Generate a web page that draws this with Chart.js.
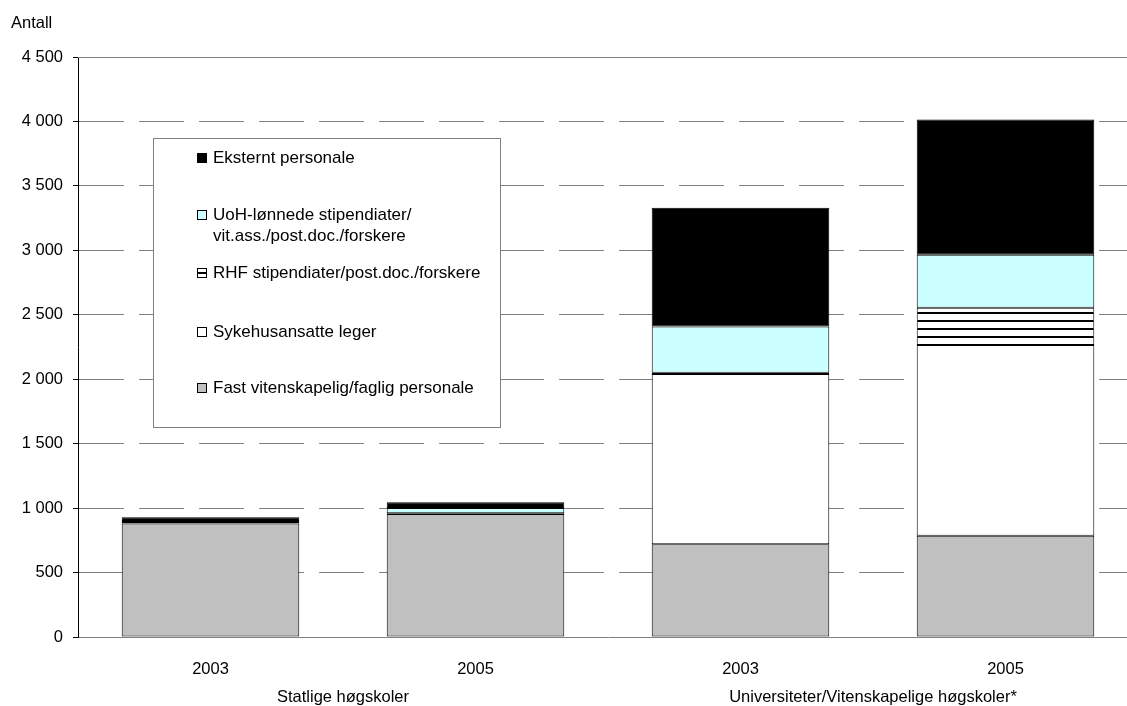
<!DOCTYPE html>
<html lang="no">
<head>
  <meta charset="UTF-8">
  <title>Antall personale</title>
  <style>
    html, body { margin: 0; padding: 0; background: #fff; overflow: hidden; }
    #chart { display: block; }
  </style>
</head>
<body>
  <canvas id="chart" width="1140" height="706"></canvas>

  <script src="https://cdn.jsdelivr.net/npm/chart.js"></script>
  <script>
    // data
    const years = ['2003', '2005', '2003', '2005'];
    const groups = ['Statlige høgskoler', 'Universiteter/Vitenskapelige høgskoler*'];
    const fastVit = [880, 955, 720, 785];
    const sykehus = [0, 0, 1320, 1480];
    const rhf = [5, 5, 10, 290];
    const uoh = [15, 40, 360, 410];
    const eksternt = [30, 45, 920, 1050];
    const yTicks = [0, 500, 1000, 1500, 2000, 2500, 3000, 3500, 4000, 4500];

    const FONT = '"Liberation Sans", Arial, sans-serif';
    const SIZE = 16.5;

    // striped fill for the RHF series
    function stripes() {
      const c = document.createElement('canvas');
      c.width = 8; c.height = 8;
      const g = c.getContext('2d');
      g.fillStyle = '#fff';
      g.fillRect(0, 0, 8, 8);
      g.fillStyle = '#000';
      g.fillRect(0, 0, 8, 2);
      return g.createPattern(c, 'repeat');
    }
    const rhfFill = stripes();

    const fmt = v => String(v).replace(/\B(?=(\d{3})+(?!\d))/g, ' ');

    const series = [
      { label: 'Fast vitenskapelig/faglig personale', data: fastVit, backgroundColor: '#C0C0C0' },
      { label: 'Sykehusansatte leger', data: sykehus, backgroundColor: '#FFFFFF' },
      { label: 'RHF stipendiater/post.doc./forskere', data: rhf, backgroundColor: rhfFill },
      { label: 'UoH-lønnede stipendiater/\nvit.ass./post.doc./forskere', data: uoh, backgroundColor: '#CCFFFF' },
      { label: 'Eksternt personale', data: eksternt, backgroundColor: '#000000' }
    ];

    // extra drawing: axis title, group labels, legend box, top line
    const extras = {
      id: 'extras',
      afterDatasetsDraw(chart) {
        const ctx = chart.ctx;
        const area = chart.chartArea;
        const x = chart.scales.x;
        ctx.save();

        // solid top line
        ctx.strokeStyle = '#808080';
        ctx.lineWidth = 1;
        ctx.beginPath();
        ctx.moveTo(area.left, Math.round(area.top) + 0.5);
        ctx.lineTo(area.right, Math.round(area.top) + 0.5);
        ctx.stroke();

        // legend box
        const bx = 153, by = 138, bw = 347, bh = 289;
        ctx.fillStyle = '#fff';
        ctx.fillRect(bx, by, bw, bh);
        ctx.strokeStyle = '#808080';
        ctx.strokeRect(bx + 0.5, by + 0.5, bw, bh);

        const rows = [158, 215, 273, 332, 388];
        const order = [4, 3, 2, 1, 0];
        ctx.font = '17px ' + FONT;
        ctx.textBaseline = 'middle';
        ctx.textAlign = 'left';
        order.forEach((di, i) => {
          const ds = chart.data.datasets[di];
          const y = rows[i];
          ctx.fillStyle = ds.backgroundColor;
          ctx.fillRect(197, y - 5, 10, 10);
          ctx.strokeStyle = '#000';
          ctx.strokeRect(197.5, y - 4.5, 9, 9);
          ctx.fillStyle = '#000';
          ds.label.split('\n').forEach((line, k) => {
            ctx.fillText(line, 213, y + k * 21);
          });
        });

        // axis title
        ctx.font = SIZE + 'px ' + FONT;
        ctx.fillText('Antall', 11, 23);

        // group labels under the years
        ctx.textAlign = 'center';
        groups.forEach((g, i) => {
          const cx = (x.getPixelForValue(i * 2) + x.getPixelForValue(i * 2 + 1)) / 2;
          ctx.fillText(g, cx, 697);
        });
        ctx.restore();
      }
    };

    new Chart(document.getElementById('chart'), {
      type: 'bar',
      data: {
        labels: years,
        datasets: series.map(s => Object.assign({
          borderColor: '#000',
          borderWidth: 1,
          borderSkipped: false,
          barPercentage: 0.67,
          categoryPercentage: 1
        }, s))
      },
      options: {
        responsive: false,
        animation: false,
        devicePixelRatio: 1,
        layout: { padding: { top: 57, right: 2, left: 0, bottom: 0 } },
        plugins: { legend: { display: false }, tooltip: { enabled: false } },
        scales: {
          x: {
            stacked: true,
            grid: { display: false },
            border: { display: true, color: '#808080', width: 1 },
            ticks: { color: '#000', font: { family: FONT, size: SIZE }, padding: 15 },
            afterFit: s => { s.height = 69; }
          },
          y: {
            stacked: true,
            min: 0,
            max: 4500,
            afterBuildTicks: s => { s.ticks = yTicks.map(v => ({ value: v })); },
            grid: { color: '#808080', lineWidth: 1, tickLength: 5, tickColor: '#000' },
            border: { display: true, color: '#000', width: 1, dash: [45, 15] },
            ticks: { color: '#000', font: { family: FONT, size: SIZE }, padding: 10, callback: v => fmt(v) },
            afterFit: s => { s.width = 78; }
          }
        }
      },
      plugins: [extras]
    });
  </script>
</body>
</html>
